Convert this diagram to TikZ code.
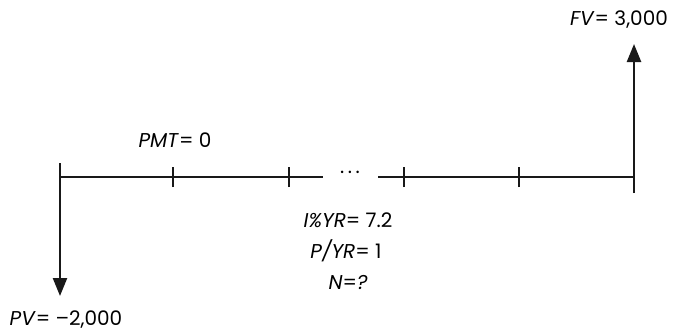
\documentclass[tikz,border=0pt]{standalone}
\usepackage{fontspec}
\setmainfont{Poppins}
\usetikzlibrary{arrows.meta}
\begin{document}
\begin{tikzpicture}[x=1pt,y=-1pt,
  lbl/.style={inner sep=0pt,font=\fontsize{20}{24}\selectfont},
  tl/.style={line width=1.6pt,draw=black!90},
  tick/.style={line width=1.4pt,draw=black!90},
  cf/.style={line width=2.4pt,draw=black!90,-{Triangle[length=18pt,width=14pt]}}]
\useasboundingbox (0,0) rectangle (679,332);
% timeline points
\coordinate (t0) at (60,177);
\coordinate (t1) at (173,177);
\coordinate (t2) at (289,177);
\coordinate (t3) at (404,177);
\coordinate (t4) at (519,177);
\coordinate (t5) at (633,177);
\coordinate (gapL) at (323,177);
\coordinate (gapR) at (378,177);
\node[lbl] (dots) at (350,172) {.\hspace{3.5pt}.\hspace{3.5pt}.};
\draw[tl] (t0) -- (gapL);
\draw[tl] (gapR) -- (t5);
\foreach \t in {t1,t2,t3,t4}{
  \draw[tick] ([yshift=-10pt]\t) -- ([yshift=10pt]\t);
}
% cash flows
\coordinate (pvtop) at (60,163);
\coordinate (pvend) at (60,296);
\coordinate (fvbot) at (634,193);
\coordinate (fvend) at (634,44);
\draw[cf] (pvtop) -- (pvend);
\draw[cf] (fvbot) -- (fvend);
% labels
\node[lbl] (fv) at (619,20) {\textit{FV}= 3,000};
\node[lbl] (pmt) at (175,140) {\textit{PMT}= 0};
\node[lbl] (iyr) at (348,220) {\textit{I\%YR}= 7.2};
\node[lbl] (pyr) at (346,251) {\textit{P/YR}= 1};
\node[lbl] (n) at (348,282) {\textit{N}=\textit{?}};
\node[lbl] (pv) at (66,320) {\textit{PV}= –2,000};
\end{tikzpicture}
\end{document}
